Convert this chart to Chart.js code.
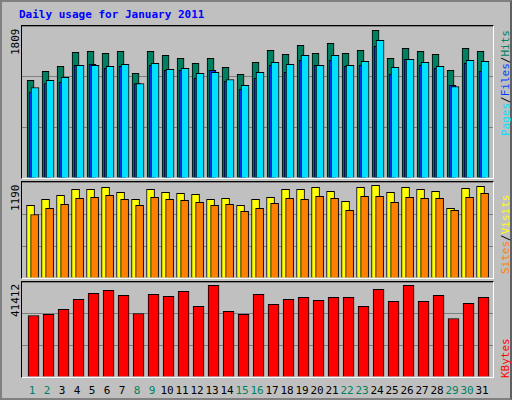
<!DOCTYPE html>
<html>
<head>
<meta charset="utf-8">
<script src="https://cdn.jsdelivr.net/npm/chart.js@4"></script>
<style>
body{margin:0;background:#fff;}
#frame{position:absolute;left:0;top:0;width:508px;height:396px;background:#c0c0c0;border:2px solid #808080;border-right-color:#606060;font-family:"DejaVu Sans Mono",monospace;}
#title{position:absolute;left:17px;top:6px;font-size:11px;font-weight:bold;color:#0000ff;}
.panel{position:absolute;left:19px;width:471px;border:1px solid #000;border-right-color:#fff;border-bottom-color:#fff;background:#c0c0c0;}
.panel canvas{position:absolute;left:0;top:0;}
.ylab,.rlab{position:absolute;font-size:11px;transform-origin:0 0;transform:rotate(-90deg);white-space:nowrap;}
.xl{position:absolute;top:382px;font-size:11px;width:16px;text-align:center;}
</style>
</head>
<body>
<div id="frame">
  <div id="title">Daily usage for January 2011</div>
  <div class="panel" style="top:23px;height:152px"><canvas id="c1"></canvas></div>
  <div class="panel" style="top:179px;height:96px"><canvas id="c2"></canvas></div>
  <div class="panel" style="top:279px;height:95px"><canvas id="c3"></canvas></div>
  <div class="ylab" style="left:7px;top:53px">1809</div>
  <div class="ylab" style="left:7px;top:209px">1190</div>
  <div class="ylab" style="left:7px;top:315px">41412</div>
  <div class="rlab" style="left:497px;top:134px"><span style="color:#00e0ff">Pages</span><span style="color:#000">/</span><span style="color:#0040ff">Files</span><span style="color:#000">/</span><span style="color:#008060">Hits</span></div>
  <div class="rlab" style="left:497px;top:272px"><span style="color:#ff8000">Sites</span><span style="color:#000">/</span><span style="color:#ffff00">Visits</span></div>
  <div class="rlab" style="left:497px;top:376px"><span style="color:#ff0000">KBytes</span></div>
  <div id="xlabels"></div>
</div>
<script>
/* ==========================
   DATA
========================== */
const days = [1,2,3,4,5,6,7,8,9,10,11,12,13,14,15,16,17,18,19,20,21,22,23,24,25,26,27,28,29,30,31];
const weekend = [1,2,8,9,15,16,22,23,29,30];
const hits = [1195,1306,1367,1539,1551,1527,1551,1281,1551,1502,1465,1404,1465,1355,1269,1416,1564,1514,1625,1527,1649,1527,1564,1809,1465,1588,1551,1514,1318,1588,1551];
const files = [1109,1195,1232,1379,1379,1367,1392,1158,1404,1330,1342,1281,1293,1207,1134,1293,1416,1392,1502,1379,1502,1379,1428,1686,1355,1453,1416,1367,1121,1441,1428];
const pages = [1052,1158,1171,1379,1392,1342,1367,1158,1379,1318,1318,1220,1318,1183,1085,1220,1379,1293,1441,1379,1441,1367,1379,1613,1269,1453,1379,1342,1134,1404,1306];
const visits = [932,1010,1061,1138,1138,1164,1100,1010,1138,1100,1087,1074,1010,1022,932,1010,1035,1138,1138,1164,1113,984,1164,1190,1100,1164,1138,1113,894,1151,1177];
const sites = [816,894,945,1022,1035,1061,1010,932,1035,1010,997,971,932,945,855,894,958,1022,1010,1048,1022,868,1048,1048,971,1035,1022,1022,868,1035,1087];
const kbytes = [27800,28260,30520,35060,37780,39140,36870,28710,37320,36420,38680,31880,41412,29620,28260,37320,32790,35060,35960,34600,35960,35960,31880,39590,34150,41412,34150,36870,26440,33240,35960];

/* ==========================
   X LABELS
========================== */
const xl = document.getElementById("xlabels");
days.forEach((d,i)=>{
    const s = document.createElement("div");
    s.className = "xl";
    s.style.left = (26 + i*15 - 4) + "px";
    s.style.color = weekend.includes(d) ? "#008060" : "#000";
    s.textContent = d;
    xl.appendChild(s);
});

/* ==========================
   CHARTS
========================== */
function ds(values, off, color, w){
    return {
        data: values.map((v,i)=>({x: days[i]+off, y: v})),
        backgroundColor: color, borderColor: "#000", borderWidth: 1,
        barThickness: w, grouped: false
    };
}
function makeChart(id, w, h, ymax, sets){
    const cv = document.getElementById(id);
    cv.width = w; cv.height = h;
    new Chart(cv, {
        type: "bar",
        data: { datasets: sets },
        options: {
            responsive: false, animation: false,
            layout: { padding: 0 },
            plugins: { legend: { display: false }, tooltip: { enabled: false } },
            scales: {
                x: { type: "linear", min: 0.43, max: 31.83, offset: false, display: false },
                y: { min: 0, max: ymax, ticks: { display: false, stepSize: ymax/3 },
                     grid: { color: "#808080", drawTicks: false }, border: { display: false } }
            }
        }
    });
}
makeChart("c1", 471, 152, 1862, [
    ds(files, 0.30, "#00e0ff", 8),
    ds(pages, 0.13, "#0040ff", 7),
    ds(hits, 0, "#008060", 7)
].map((d,i)=>Object.assign(d,{order:i})));
makeChart("c2", 471, 96, 1233, [
    ds(sites, 0.27, "#ff8000", 8),
    ds(visits, 0, "#ffff00", 8)
].map((d,i)=>Object.assign(d,{order:i})));
makeChart("c3", 471, 95, 42924, [
    ds(kbytes, 0.2, "#ff0000", 11)
]);
</script>
</body>
</html>
